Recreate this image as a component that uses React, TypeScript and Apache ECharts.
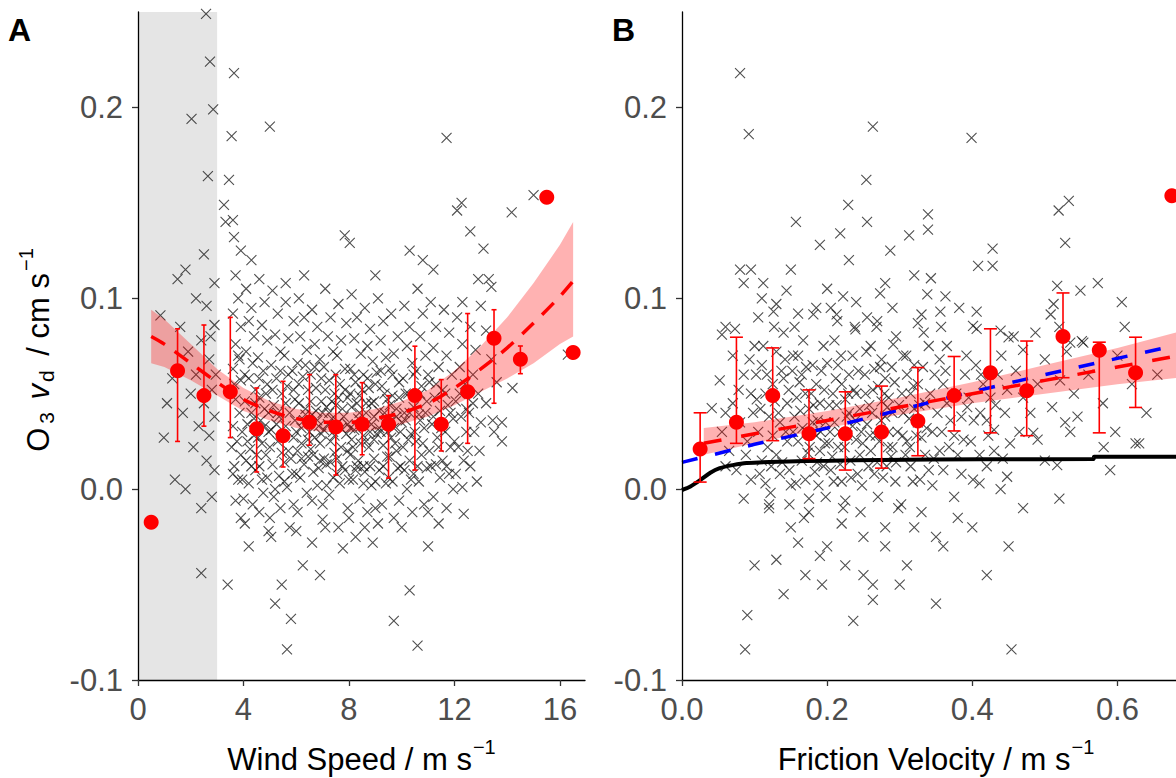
import React, { useEffect, useRef } from "react";
import * as echarts from "echarts";

const FONT = "'Liberation Sans', Arial, Helvetica, sans-serif";

// ---------------- Panel A : wind speed ----------------
const A_X_TICKS = [0, 4, 8, 12, 16];
const Y_TICKS = [-0.1, 0.0, 0.1, 0.2];
const A_SHADE = [0, 3];

const A_CROSS: number[][] = [
  [2.58,0.249],[2.73,0.224],[2.85,0.199],[2.03,0.194],[2.65,0.164],[1.5,0.110],[1.8,0.115],[2.2,0.100],[0.85,0.091],[2.5,0.123],
  [2.9,0.108],[2.6,0.096],[2.9,0.086],[2.4,0.078],[1.9,0.072],[2.7,0.068],[2.2,0.060],[1.3,0.058],[2.8,0.052],[2.5,0.045],
  [1.7,0.040],[2.9,0.038],[2.3,0.033],[2.7,0.028],[0.98,0.027],[2.1,0.022],[2.6,0.015],[1.4,0.005],[2.9,0.010],[1.8,0.000],
  [2.4,-0.010],[2.8,-0.004],[2.4,-0.044],[2.95,0.060],[2.75,0.080],[1.6,0.085],[2.0,0.050],[1.1,0.045],
  [3.64,0.218],[3.55,0.185],[3.45,0.162],[3.26,0.149],[3.32,0.140],[3.6,0.141],[3.64,0.132],[5.0,0.190],[11.7,0.184],[15.0,0.154],
  [12.27,0.150],[12.1,0.146],[13.1,0.126],[12.6,0.135],[10.3,0.125],[7.84,0.133],[8.03,0.129],[10.8,0.120],[3.9,0.125],[4.3,0.120],
  [6.3,0.112],[9.0,0.112],[11.2,0.115],[5.6,0.108],[14.17,0.145],[13.3,0.110],
  [3.7,0.112],[3.8,0.100],[3.6,0.092],[3.9,0.085],[3.7,0.076],[3.8,0.070],[3.6,0.063],[3.9,0.057],[3.7,0.047],[3.85,0.040],
  [3.6,0.033],[3.75,0.025],[3.9,0.018],[3.65,0.012],[3.8,0.005],[3.7,-0.006],[3.9,-0.015],[3.4,-0.050],[3.6,0.008],[3.95,0.030],
  [4.1,0.105],[4.3,0.095],[4.2,0.088],[4.4,0.080],[4.1,0.072],[4.35,0.066],[4.2,0.058],[4.45,0.052],[4.05,0.046],[4.3,0.040],
  [4.15,0.034],[4.4,0.028],[4.25,0.021],[4.1,0.015],[4.45,0.010],[4.2,0.003],[4.35,-0.008],[4.2,-0.030],[4.05,-0.018],[4.4,0.037],
  [4.6,0.110],[4.8,0.098],[4.7,0.086],[4.9,0.078],[4.55,0.069],[4.75,0.062],[4.9,0.055],[4.6,0.048],[4.8,0.042],[4.65,0.036],
  [4.95,0.030],[4.7,0.024],[4.85,0.018],[4.6,0.012],[4.9,0.006],[4.75,-0.002],[4.6,-0.012],[4.95,-0.022],[4.8,0.033],[4.55,0.027],
  [5.1,0.104],[5.3,0.092],[5.2,0.081],[5.4,0.072],[5.05,0.065],[5.25,0.058],[5.45,0.050],[5.15,0.044],[5.35,0.038],[5.05,0.031],
  [5.3,0.025],[5.45,0.019],[5.1,0.013],[5.35,0.007],[5.2,0.000],[5.4,-0.010],[5.2,-0.060],[5.45,-0.050],[5.05,-0.025],[5.3,0.040],
  [5.65,-0.084],[5.8,-0.068],[5.6,0.098],[5.9,0.088],[5.7,0.079],[5.55,0.070],[5.85,0.062],[5.65,0.054],[5.95,0.047],[5.75,0.040],
  [5.6,0.033],[5.9,0.027],[5.7,0.020],[5.55,0.014],[5.85,0.008],[5.65,0.001],[5.9,-0.008],[5.75,-0.020],[5.6,0.045],[5.95,0.036],
  [6.1,0.100],[6.3,0.090],[6.15,0.080],[6.4,0.073],[6.05,0.066],[6.25,0.059],[6.45,0.052],[6.1,0.045],[6.35,0.039],[6.2,0.032],
  [6.45,0.026],[6.05,0.020],[6.3,0.013],[6.15,0.006],[6.4,-0.002],[6.25,-0.040],[6.05,-0.012],[6.35,0.042],[6.2,0.024],[6.45,0.017],
  [6.6,0.094],[6.8,0.085],[6.7,0.076],[6.9,0.068],[6.55,0.060],[6.75,0.053],[6.95,0.046],[6.6,0.039],[6.85,0.033],[6.7,0.027],
  [6.55,0.021],[6.9,0.015],[6.65,0.009],[6.8,0.002],[7.0,-0.016],[6.9,-0.045],[6.6,-0.006],[6.75,0.041],[6.95,0.029],[6.85,0.011],
  [7.1,0.105],[7.3,0.090],[7.2,0.080],[7.4,0.072],[7.05,0.064],[7.25,0.057],[7.45,0.050],[7.15,0.043],[7.35,0.037],[7.05,0.031],
  [7.3,0.025],[7.45,0.019],[7.15,0.013],[7.4,0.006],[7.25,-0.003],[7.1,-0.020],[7.35,0.046],[7.2,0.034],[7.45,0.028],[7.05,0.016],
  [7.77,-0.031],[7.6,0.097],[7.9,0.087],[7.7,0.078],[7.55,0.070],[7.85,0.063],[7.65,0.055],[7.95,0.048],[7.75,0.042],[7.6,0.035],
  [7.9,0.029],[7.7,0.022],[7.55,0.016],[7.85,0.010],[7.65,0.003],[7.95,-0.010],[7.6,-0.020],[7.8,0.038],[7.5,0.044],[7.95,0.020],
  [8.1,0.102],[8.3,0.090],[8.2,0.079],[8.45,0.071],[8.05,0.063],[8.25,0.056],[8.4,0.049],[8.1,0.043],[8.35,0.037],[8.2,0.031],
  [8.45,0.024],[8.05,0.018],[8.3,0.012],[8.15,0.005],[8.4,-0.005],[8.25,-0.025],[8.05,0.032],[8.4,0.040],[8.15,0.022],[8.35,0.015],
  [8.6,0.095],[8.8,0.084],[8.7,0.075],[8.9,0.067],[8.55,0.060],[8.75,0.053],[8.95,0.046],[8.65,0.040],[8.85,0.034],[8.55,0.028],
  [8.75,0.022],[8.95,0.016],[8.6,0.009],[8.85,0.002],[8.7,-0.012],[8.9,-0.028],[8.65,0.045],[8.8,0.030],[8.95,0.038],[8.55,0.012],
  [9.1,0.100],[9.3,0.088],[9.2,0.078],[9.4,0.069],[9.05,0.061],[9.25,0.054],[9.45,0.047],[9.15,0.041],[9.35,0.035],[9.05,0.029],
  [9.3,0.023],[9.45,0.017],[9.15,0.010],[9.4,0.003],[9.25,-0.008],[9.1,-0.018],[9.35,0.040],[9.2,0.030],
  [9.7,-0.069],[9.6,0.092],[9.85,0.080],[9.7,0.071],[9.55,0.063],[9.9,0.056],[9.65,0.049],[9.8,0.042],[9.6,0.036],[9.95,0.030],
  [9.75,0.024],[9.55,0.017],[9.85,0.011],[9.65,0.004],[9.9,-0.006],[9.7,-0.015],[9.8,0.038],[9.6,0.027],
  [10.3,-0.053],[10.1,0.096],[10.3,0.085],[10.2,0.075],[10.4,0.066],[10.05,0.058],[10.25,0.050],[10.45,0.043],[10.15,0.036],[10.35,0.029],
  [10.05,0.022],[10.3,0.015],[10.45,0.008],[10.2,0.000],[10.4,-0.012],[10.1,0.040],[10.25,0.026],
  [10.6,-0.082],[10.6,0.105],[10.8,0.092],[10.7,0.080],[10.9,0.070],[10.55,0.062],[10.75,0.054],[10.95,0.046],[10.65,0.039],[10.85,0.032],
  [10.55,0.025],[10.75,0.018],[10.95,0.011],[10.65,0.004],[10.85,-0.008],[11.0,-0.030],[10.7,0.036],
  [11.1,0.098],[11.3,0.085],[11.2,0.074],[11.4,0.064],[11.05,0.056],[11.25,0.048],[11.45,0.041],[11.15,0.034],[11.35,0.027],[11.05,0.020],
  [11.3,0.013],[11.45,0.006],[11.2,-0.004],[11.4,-0.018],
  [11.6,0.094],[11.8,0.082],[11.7,0.070],[11.9,0.060],[11.55,0.052],[11.75,0.044],[11.95,0.037],[11.65,0.030],[11.85,0.022],[11.55,0.015],
  [11.8,0.008],[11.95,0.000],[11.7,-0.010],
  [12.1,0.090],[12.3,0.076],[12.2,0.064],[12.4,0.055],[12.05,0.046],[12.25,0.038],[12.45,0.030],[12.15,0.022],[12.35,0.015],[12.05,0.008],
  [12.3,0.001],[12.35,-0.013],[12.45,0.042],
  [12.6,0.085],[12.8,0.073],[12.7,0.060],[12.9,0.050],[12.55,0.040],[12.75,0.030],[12.95,0.020],[12.6,0.012],[12.85,0.004],
  [13.2,0.083],[13.4,0.068],[13.45,0.036],[13.5,0.030],[13.0,0.096],[12.9,0.110],[13.4,0.106],[13.6,0.056],[13.2,0.045],[13.8,0.025],
  [14.2,0.053],[13.8,0.035],[12.3,0.098],[16.3,0.0705],
  [3.55,0.022],[3.65,0.055],[3.85,0.068],[3.95,0.005],[4.05,0.060],[4.15,0.025],[4.3,0.012],[4.45,0.045],[4.5,0.018],[4.6,0.058],
  [4.7,0.005],[4.85,0.050],[4.95,0.040],[5.0,0.022],[5.1,0.052],[5.15,-0.004],[5.25,0.034],[5.4,0.062],[5.5,0.028],[5.55,0.004],
  [5.7,0.060],[5.8,0.016],[5.9,0.052],[6.0,0.030],[6.0,0.008],[6.1,0.055],[6.2,0.016],[6.3,0.036],[6.35,0.065],[6.5,0.030],
  [6.55,0.046],[6.65,0.018],[6.7,0.064],[6.8,0.036],[6.9,0.024],[6.95,0.058],[7.0,0.040],[7.1,0.052],[7.15,0.002],[7.25,0.040],
  [7.3,0.014],[7.4,0.030],[7.5,0.060],[7.55,0.008],[7.6,0.048],[7.7,0.032],[7.75,0.012],[7.85,0.052],[7.95,0.034],[8.0,0.005],
  [8.05,0.050],[8.1,0.026],[8.2,0.060],[8.25,0.010],[8.3,0.045],[8.45,0.033],[8.5,0.052],[8.55,0.003],[8.65,0.025],[8.7,0.058],
  [8.8,0.012],[8.85,0.045],[8.95,0.026],[9.0,0.055],[9.0,0.004],[9.15,0.032],[9.2,0.062],[9.3,0.012],[9.35,0.050],[9.45,0.030],
  [9.5,0.006],[9.55,0.044],[9.65,0.060],[9.7,0.032],[9.8,0.020],[9.9,0.048],[9.95,0.012],[10.0,0.035],[10.1,0.010],[10.15,0.050],
  [10.3,0.040],[10.35,0.005],[10.45,0.060],[10.5,0.030],[10.6,0.012],[10.7,0.050],[10.8,0.024],[10.9,0.040],[11.0,0.060],[11.1,0.012],
  [11.2,0.038],[11.3,0.055],[11.4,0.022],[11.5,0.032],[11.65,0.050],[11.7,0.012],[11.85,0.040],[12.0,0.025],[12.2,0.050],[12.5,0.020],
  [12.7,0.045],[13.0,0.035],[4.0,-0.005],[5.0,-0.015],[6.0,-0.022],[7.0,-0.008],[8.0,-0.015],[9.0,-0.010],[10.0,-0.020],[11.0,-0.012],
  [6.6,-0.028],[8.6,-0.020]
];

const A_BIN_X = [0.5,1.5,2.5,3.5,4.5,5.5,6.5,7.5,8.5,9.5,10.5,11.5,12.5,13.5,14.5,15.5,16.5];
const A_BIN_MEAN = [-0.0174,0.062,0.049,0.051,0.0316,0.028,0.035,0.0326,0.034,0.034,0.049,0.034,0.051,0.079,0.068,0.153,0.0716];
const A_BIN_LO = [null,0.025,0.033,0.027,0.009,0.0116,0.023,0.0074,0.018,0.0058,0.010,0.020,0.024,0.045,0.0605,null,null];
const A_BIN_HI = [null,0.084,0.086,0.090,0.053,0.0565,0.060,0.060,0.0558,0.049,0.0749,0.0574,0.092,0.094,0.075,null,null];

const A_FIT_X = [0.5,1,2,3,4,5,6,7,8,9,10,11,12,13,14,15,16,16.5];
const A_FIT = [0.080,0.076,0.066,0.056,0.047,0.041,0.037,0.035,0.035,0.037,0.040,0.045,0.053,0.063,0.074,0.087,0.101,0.109];
const A_FIT_LO = [0.066,0.064,0.057,0.049,0.041,0.036,0.032,0.030,0.030,0.031,0.034,0.038,0.044,0.051,0.058,0.066,0.076,0.080];
const A_FIT_HI = [0.094,0.089,0.076,0.063,0.053,0.046,0.042,0.040,0.040,0.042,0.046,0.052,0.062,0.075,0.090,0.108,0.128,0.140];

// ---------------- Panel B : friction velocity ----------------
const B_X_TICKS = [0, 0.2, 0.4, 0.6];

const B_CROSS: number[][] = [
  [0.08,0.218],[0.092,0.186],[0.263,0.190],[0.399,0.184],[0.254,0.162],[0.229,0.149],[0.255,0.140],[0.533,0.151],[0.519,0.146],[0.528,0.129],
  [0.339,0.144],[0.339,0.136],[0.313,0.133],[0.287,0.125],[0.428,0.126],[0.408,0.117],[0.428,0.117],[0.343,0.1105],[0.338,0.102],[0.363,0.101],
  [0.356,0.093],[0.382,0.095],[0.406,0.093],[0.33,0.0915],[0.325,0.087],[0.333,0.082],[0.357,0.085],[0.406,0.084],[0.517,0.1065],[0.512,0.097],
  [0.508,0.0915],[0.549,0.104],[0.573,0.108],[0.606,0.098],[0.551,0.0775],[0.439,0.083],[0.45,0.0795],[0.487,0.082],[0.273,0.1026],[0.291,0.0758],
  [0.052,0.057],[0.073,0.084],[0.08,0.115],[0.095,0.115],[0.085,0.108],[0.06,0.085],[0.041,0.0425],[0.11,0.100],[0.112,0.108],[0.126,0.093],
  [0.13,0.097],[0.144,0.104],[0.157,0.140],[0.218,0.134],[0.181,0.0916],[0.213,0.0916],[0.222,0.101],[0.269,0.088],[0.239,0.0837],[0.055,0.081],
  [0.521,0.057],[0.528,0.035],[0.535,0.030],[0.581,0.022],[0.625,0.024],[0.597,0.030],[0.517,0.0126],[0.484,0.0295],[0.49,0.026],[0.452,0.024],
  [0.448,0.0065],[0.439,0.0],[0.401,0.005],[0.41,0.003],[0.411,0.040],[0.42,0.036],[0.43,0.031],[0.393,0.043],[0.401,0.0855],[0.457,0.080],
  [0.47,0.073],[0.535,0.0768],[0.553,0.0768],[0.63,0.024],
  [0.09,-0.066],[0.087,-0.084],[0.1,-0.04],[0.13,-0.037],[0.17,-0.045],[0.193,-0.05],[0.236,-0.069],[0.263,-0.058],[0.263,-0.050],[0.31,-0.04],
  [0.454,-0.084],[0.45,-0.03],[0.32,-0.02],[0.15,-0.02],[0.2,-0.03],[0.22,-0.018],[0.25,-0.025],[0.28,-0.03],[0.35,-0.025],[0.38,-0.015],
  [0.52,-0.005],[0.47,-0.01],[0.12,-0.01],[0.175,-0.012],
  [0.055,0.030],[0.065,0.020],[0.07,0.045],[0.075,0.010],[0.08,0.035],[0.085,0.060],[0.09,0.025],[0.095,0.050],[0.06,0.012],[0.07,0.070],
  [0.095,0.005],[0.085,-0.005],[0.098,0.040],[0.1,0.075],
  [0.105,0.090],[0.11,0.065],[0.115,0.050],[0.12,0.038],[0.125,0.028],[0.13,0.018],[0.135,0.008],[0.14,0.058],[0.145,0.045],[0.105,0.030],
  [0.11,0.015],[0.115,0.003],[0.12,-0.008],[0.13,0.072],[0.14,0.082],[0.145,0.025],[0.135,0.035],[0.125,0.055],[0.148,0.010],[0.102,0.060],
  [0.155,0.085],[0.16,0.070],[0.165,0.060],[0.17,0.050],[0.175,0.042],[0.18,0.035],[0.185,0.028],[0.19,0.020],[0.195,0.012],[0.155,0.038],
  [0.16,0.025],[0.165,0.015],[0.17,0.005],[0.175,-0.005],[0.18,0.065],[0.185,0.055],[0.19,0.045],[0.195,0.075],[0.158,0.048],[0.172,0.030],
  [0.188,0.002],[0.198,0.035],[0.152,0.062],[0.168,-0.015],
  [0.205,0.095],[0.21,0.078],[0.215,0.065],[0.22,0.055],[0.225,0.047],[0.23,0.040],[0.235,0.033],[0.24,0.026],[0.245,0.018],[0.205,0.010],
  [0.21,0.035],[0.215,0.022],[0.22,0.004],[0.225,-0.006],[0.23,0.060],[0.235,0.070],[0.24,0.050],[0.245,0.042],[0.208,0.050],[0.218,0.013],
  [0.228,0.028],[0.238,0.085],[0.248,0.002],[0.202,0.024],
  [0.255,0.090],[0.26,0.075],[0.265,0.063],[0.27,0.054],[0.275,0.046],[0.28,0.038],[0.285,0.030],[0.29,0.022],[0.295,0.014],[0.255,0.034],
  [0.26,0.020],[0.265,0.008],[0.27,-0.004],[0.275,0.068],[0.28,0.058],[0.285,0.048],[0.29,0.040],[0.295,0.080],[0.258,0.044],[0.272,0.025],
  [0.282,0.012],[0.298,-0.010],[0.252,0.060],
  [0.305,0.070],[0.31,0.060],[0.315,0.050],[0.32,0.042],[0.325,0.035],[0.33,0.027],[0.335,0.018],[0.34,0.010],[0.345,0.002],[0.305,0.040],
  [0.31,0.025],[0.315,0.012],[0.32,0.065],[0.325,0.055],[0.335,0.045],[0.34,0.075],[0.345,0.030],[0.302,-0.008],[0.328,0.005],[0.348,0.060],
  [0.355,0.068],[0.36,0.055],[0.365,0.045],[0.37,0.036],[0.375,0.028],[0.38,0.018],[0.385,0.008],[0.39,0.060],[0.395,0.048],[0.355,0.020],
  [0.365,0.075],[0.375,-0.004],[0.385,0.038],[0.398,0.025],[0.36,0.010],
  [0.405,0.065],[0.415,0.055],[0.425,0.048],[0.435,0.060],[0.445,0.040],[0.41,0.018],[0.42,0.012],[0.44,0.070],[0.43,0.020],[0.448,0.052],
  [0.46,0.062],[0.47,0.048],[0.48,0.040],[0.49,0.055],[0.5,0.068],[0.51,0.043],[0.52,0.085],[0.53,0.072],[0.54,0.050],[0.545,0.038],
  [0.5,0.015],[0.465,0.030],[0.56,0.060],[0.58,0.045],[0.6,0.070],[0.62,0.055],[0.64,0.040],[0.655,0.060],[0.59,0.010],[0.61,0.085],
  [0.108,0.042],[0.118,0.022],[0.128,0.046],[0.138,0.014],[0.142,0.068],[0.153,0.030],[0.157,0.003],[0.163,0.041],[0.167,0.078],[0.173,0.019],
  [0.178,0.050],[0.183,0.009],[0.187,0.036],[0.192,0.062],[0.197,0.024],[0.203,0.044],[0.207,0.017],[0.212,0.058],[0.217,0.030],[0.222,-0.010],
  [0.227,0.038],[0.232,0.015],[0.237,0.052],[0.242,0.008],[0.247,0.030],[0.253,0.050],[0.257,0.012],[0.262,0.040],[0.267,0.028],[0.273,0.064],
  [0.277,0.006],[0.283,0.043],[0.288,0.017],[0.293,0.056],[0.297,0.030],[0.303,0.050],[0.308,0.018],[0.313,0.037],[0.318,0.004],[0.323,0.028],
  [0.112,0.075],[0.122,-0.002],[0.148,-0.008],[0.198,-0.004],[0.246,-0.012],[0.268,0.085],[0.214,0.088],[0.185,0.095],[0.16,-0.028],[0.19,-0.035],
  [0.225,-0.04],[0.28,-0.02],[0.33,-0.012],[0.36,-0.03],[0.4,-0.02],[0.42,-0.045],[0.14,-0.055],[0.3,-0.05],[0.35,-0.06],[0.25,-0.045],
  [0.06,0.040],[0.078,0.052],[0.088,0.018],[0.093,0.068],[0.103,0.047],[0.107,0.008],[0.117,0.060],[0.123,0.012],[0.127,0.085],[0.133,0.040],
  [0.137,0.062],[0.143,0.030],[0.147,0.052],[0.15,0.002],[0.153,0.070],[0.162,0.056],[0.166,0.032],[0.171,0.064],[0.176,0.022],[0.181,0.044],
  [0.186,0.014],[0.191,0.030],[0.196,0.052],[0.2,0.066],[0.204,0.030],[0.209,0.004],[0.213,0.044],[0.219,0.070],[0.224,0.022],[0.229,0.050],
  [0.233,0.006],[0.239,0.036],[0.243,0.062],[0.249,0.024],[0.254,0.072],[0.259,0.028],[0.263,0.052],[0.269,0.014],[0.274,0.036],[0.279,0.050],
  [0.284,0.022],[0.289,0.064],[0.294,0.004],[0.299,0.044],[0.304,0.028],[0.309,0.070],[0.314,0.022],[0.319,0.054],[0.327,0.044],[0.332,0.064],
  [0.337,0.032],[0.342,0.050],[0.347,0.016],[0.352,0.040],[0.358,0.030],[0.363,0.062],[0.368,0.022],[0.378,0.050],[0.388,0.026],[0.392,0.070],
  [0.402,0.036],[0.412,0.060],[0.422,0.028],[0.432,0.044],[0.442,0.016],[0.16,0.092],[0.2,0.105],[0.24,0.098],[0.28,0.108],[0.32,0.112],
  [0.15,0.115],[0.19,0.128],[0.23,0.120],[0.29,0.095]
];

const B_BIN_X = [0.025,0.075,0.125,0.175,0.225,0.275,0.325,0.375,0.425,0.475,0.525,0.575,0.625,0.675];
const B_BIN_MEAN = [0.021,0.035,0.049,0.029,0.029,0.030,0.0357,0.049,0.061,0.0516,0.080,0.0728,0.061,0.1537];
const B_BIN_LO = [0.0037,0.024,0.0254,0.016,0.010,0.011,0.0175,0.0305,0.0295,0.028,0.0584,0.0295,0.0428,null];
const B_BIN_HI = [0.040,0.0796,0.074,0.052,0.051,0.054,0.0637,0.0695,0.084,0.0776,0.1028,0.077,0.0796,null];

const B_FIT_X = [0.03,0.1,0.2,0.3,0.4,0.5,0.6,0.7];
const B_FIT = [0.024,0.029,0.036,0.043,0.050,0.057,0.064,0.071];
const B_FIT_LO = [0.018,0.024,0.032,0.039,0.045,0.050,0.055,0.059];
const B_FIT_HI = [0.032,0.035,0.041,0.048,0.056,0.065,0.074,0.084];

const B_BLUE_X = [0,0.1,0.2,0.3,0.4,0.5,0.6,0.7];
const B_BLUE = [0.014,0.0235,0.032,0.0415,0.051,0.060,0.0685,0.077];

const B_BLACK_X = [0,0.005,0.011,0.025,0.039,0.052,0.07,0.089,0.135,0.204,0.273,0.411,0.567,0.568,0.7];
const B_BLACK = [-0.0005,0.0003,0.0012,0.0047,0.0086,0.011,0.0126,0.0137,0.0144,0.0149,0.0153,0.0156,0.0158,0.017,0.017];

// ---------------- helpers ----------------
const zip = (xs: number[], ys: number[]) => xs.map((x, i) => [x, ys[i]]);
const errRows = (xs: number[], lo: (number | null)[], hi: (number | null)[]) =>
  xs.map((x, i) => (lo[i] == null ? null : [x, lo[i], hi[i]])).filter((r) => r !== null);

const CROSS = "path://M0,0L10,10M0,10L10,0";
const RED = "#ff0000";

function errorSeries(idx: number, rows: any[], cap: number) {
  return {
    type: "custom",
    xAxisIndex: idx,
    yAxisIndex: idx,
    data: rows,
    z: 5,
    silent: true,
    encode: { x: 0, y: [1, 2] },
    renderItem: (params: any, api: any) => {
      const x = api.value(0);
      const lo = api.coord([x, api.value(1)]);
      const hi = api.coord([x, api.value(2)]);
      const st = { stroke: RED, lineWidth: 1.6 };
      return {
        type: "group",
        children: [
          { type: "line", shape: { x1: lo[0], y1: lo[1], x2: hi[0], y2: hi[1] }, style: st },
          { type: "line", shape: { x1: lo[0] - cap, y1: lo[1], x2: lo[0] + cap, y2: lo[1] }, style: st },
          { type: "line", shape: { x1: hi[0] - cap, y1: hi[1], x2: hi[0] + cap, y2: hi[1] }, style: st },
        ],
      };
    },
  };
}

function bandSeries(idx: number, xs: number[], lo: number[], hi: number[]) {
  return {
    type: "custom", xAxisIndex: idx, yAxisIndex: idx, z: 3, silent: true,
    data: xs.map((x, i) => [x, lo[i], hi[i]]),
    encode: { x: 0, y: [1, 2] },
    renderItem: (params: any, api: any) => {
      if (params.dataIndex !== 0) return null;
      const top = xs.map((x, i) => api.coord([x, hi[i]]));
      const bot = xs.map((x, i) => api.coord([x, lo[i]])).reverse();
      return { type: "polygon", shape: { points: top.concat(bot) }, style: { fill: "rgba(255,0,0,0.3)" } };
    },
  };
}

const labelStyle = { color: "#4d4d4d", fontSize: 31, lineHeight: 31, fontFamily: FONT };
const titleRich = {
  n: { fontSize: 31, lineHeight: 31, color: "#000", fontFamily: FONT },
  sp: { fontSize: 20, lineHeight: 1, color: "#000", fontFamily: FONT, padding: [0, 0, 26, 1] },
};

function xAxis(idx: number, max: number, ticks: number[], fmt: (v: number) => string, name: string) {
  return {
    type: "value", gridIndex: idx, min: 0, max, z: 10,
    axisLine: { show: true, onZero: false, lineStyle: { color: "#000", width: 1.3 } },
    axisTick: { show: true, length: 6, customValues: ticks, lineStyle: { color: "#333", width: 1.3 } },
    axisLabel: { ...labelStyle, margin: 14, customValues: ticks, formatter: fmt },
    splitLine: { show: false },
    name: `{n|${name}}{sp|−1}`,
    nameLocation: "middle",
    nameGap: 64,
    nameTextStyle: { rich: titleRich },
  };
}

function yAxis(idx: number) {
  return {
    type: "value", gridIndex: idx, min: -0.1, max: 0.25, z: 10,
    axisLine: { show: true, onZero: false, lineStyle: { color: "#000", width: 1.3 } },
    axisTick: { show: true, length: 6, customValues: Y_TICKS, lineStyle: { color: "#333", width: 1.3 } },
    axisLabel: { ...labelStyle, margin: 15, customValues: Y_TICKS, formatter: (v: number) => v.toFixed(1) },
    splitLine: { show: false },
  };
}

const crossStyle = { color: "none", borderColor: "rgba(20,20,20,0.75)", borderWidth: 1.1, opacity: 1 };

export default function App() {
  const ref = useRef<HTMLDivElement>(null);
  useEffect(() => {
    const chart = echarts.init(ref.current!, undefined, { renderer: "svg" });
    const option: any = {
      animation: false,
      backgroundColor: "#ffffff",
      grid: [
        { left: 138, top: 12, width: 447, height: 668, containLabel: false, outerBoundsMode: "none" },
        { left: 682, top: 12, width: 508, height: 668, containLabel: false, outerBoundsMode: "none" },
      ],
      xAxis: [
        xAxis(0, 16.95, A_X_TICKS, (v: number) => String(v), "Wind Speed / m s"),
        xAxis(1, 0.7, B_X_TICKS, (v: number) => v.toFixed(1), "Friction Velocity / m s"),
      ],
      yAxis: [yAxis(0), yAxis(1)],
      graphic: [
        { type: "text", left: 8, top: 14, style: { text: "A", fontSize: 32, fontWeight: "bold", fontFamily: FONT, fill: "#000" } },
        { type: "text", left: 612, top: 14, style: { text: "B", fontSize: 32, fontWeight: "bold", fontFamily: FONT, fill: "#000" } },
        {
          type: "text", x: 38, y: 350, rotation: Math.PI / 2,
          style: {
            text: "{n|O}{sb|3}{n| }{i|v}{sbd|d}{s2| / cm s}{sp|−1}",
            align: "center", verticalAlign: "middle",
            rich: {
              n: { fontSize: 31, lineHeight: 31, fill: "#000", fontFamily: FONT },
              i: { fontSize: 31, lineHeight: 31, fill: "#000", fontFamily: FONT, fontStyle: "italic", padding: [0, 0, 0, 4] },
              sb: { fontSize: 21, lineHeight: 1, fill: "#000", fontFamily: FONT, padding: [16, 0, 0, 4] },
              sbd: { fontSize: 21, lineHeight: 1, fill: "#000", fontFamily: FONT, padding: [16, 0, 0, 2] },
              s2: { fontSize: 31, lineHeight: 31, fill: "#000", fontFamily: FONT, padding: [0, 0, 0, 6] },
              sp: { fontSize: 20, lineHeight: 1, fill: "#000", fontFamily: FONT, padding: [0, 0, 24, 2] },
            },
          },
        },
      ],
      series: [
        {
          type: "custom", xAxisIndex: 0, yAxisIndex: 0, data: [A_SHADE], z: 1, silent: true,
          encode: { x: [0, 1] },
          renderItem: (params: any, api: any) => {
            const a = api.coord([api.value(0), 0]);
            const b = api.coord([api.value(1), 0]);
            const cs = params.coordSys;
            return { type: "rect", shape: { x: a[0], y: cs.y, width: b[0] - a[0], height: cs.height }, style: { fill: "#e5e5e5" } };
          },
        },
        {
          type: "scatter", xAxisIndex: 0, yAxisIndex: 0, data: A_CROSS, symbol: CROSS, symbolSize: 10, z: 2, silent: true,
          itemStyle: crossStyle,
        },
        {
          type: "scatter", xAxisIndex: 1, yAxisIndex: 1, data: B_CROSS, symbol: CROSS, symbolSize: 10, z: 2, silent: true,
          itemStyle: crossStyle,
        },
        bandSeries(0, A_FIT_X, A_FIT_LO, A_FIT_HI),
        bandSeries(1, B_FIT_X, B_FIT_LO, B_FIT_HI),
        {
          type: "line", xAxisIndex: 0, yAxisIndex: 0, data: zip(A_FIT_X, A_FIT), symbol: "none", smooth: 0.3, z: 4, silent: true,
          lineStyle: { color: RED, width: 3.5, type: [16, 12] },
        },
        {
          type: "line", xAxisIndex: 1, yAxisIndex: 1, data: zip(B_BLACK_X, B_BLACK), symbol: "none", smooth: 0.3, z: 4, silent: true,
          lineStyle: { color: "#000", width: 4 },
        },
        {
          type: "line", xAxisIndex: 1, yAxisIndex: 1, data: zip(B_BLUE_X, B_BLUE), symbol: "none", z: 4, silent: true,
          lineStyle: { color: "#0000ff", width: 3.5, type: [16, 18] },
        },
        {
          type: "line", xAxisIndex: 1, yAxisIndex: 1, data: zip(B_FIT_X, B_FIT), symbol: "none", z: 4, silent: true,
          lineStyle: { color: RED, width: 3.5, type: [18, 20] },
        },
        errorSeries(0, errRows(A_BIN_X, A_BIN_LO, A_BIN_HI), 2.5),
        errorSeries(1, errRows(B_BIN_X, B_BIN_LO, B_BIN_HI), 6.5),
        {
          type: "scatter", xAxisIndex: 0, yAxisIndex: 0, data: zip(A_BIN_X, A_BIN_MEAN), symbol: "circle", symbolSize: 15, z: 6, silent: true,
          itemStyle: { color: RED, opacity: 1 },
        },
        {
          type: "scatter", xAxisIndex: 1, yAxisIndex: 1, data: zip(B_BIN_X, B_BIN_MEAN), symbol: "circle", symbolSize: 15, z: 6, silent: true,
          clip: false, itemStyle: { color: RED, opacity: 1 },
        },
      ],
    };
    chart.setOption(option);
    return () => chart.dispose();
  }, []);
  return (
    <div
      ref={ref}
      style={{ position: "absolute", left: 0, top: 0, width: 1176, height: 778, background: "#fff" }}
    />
  );
}
